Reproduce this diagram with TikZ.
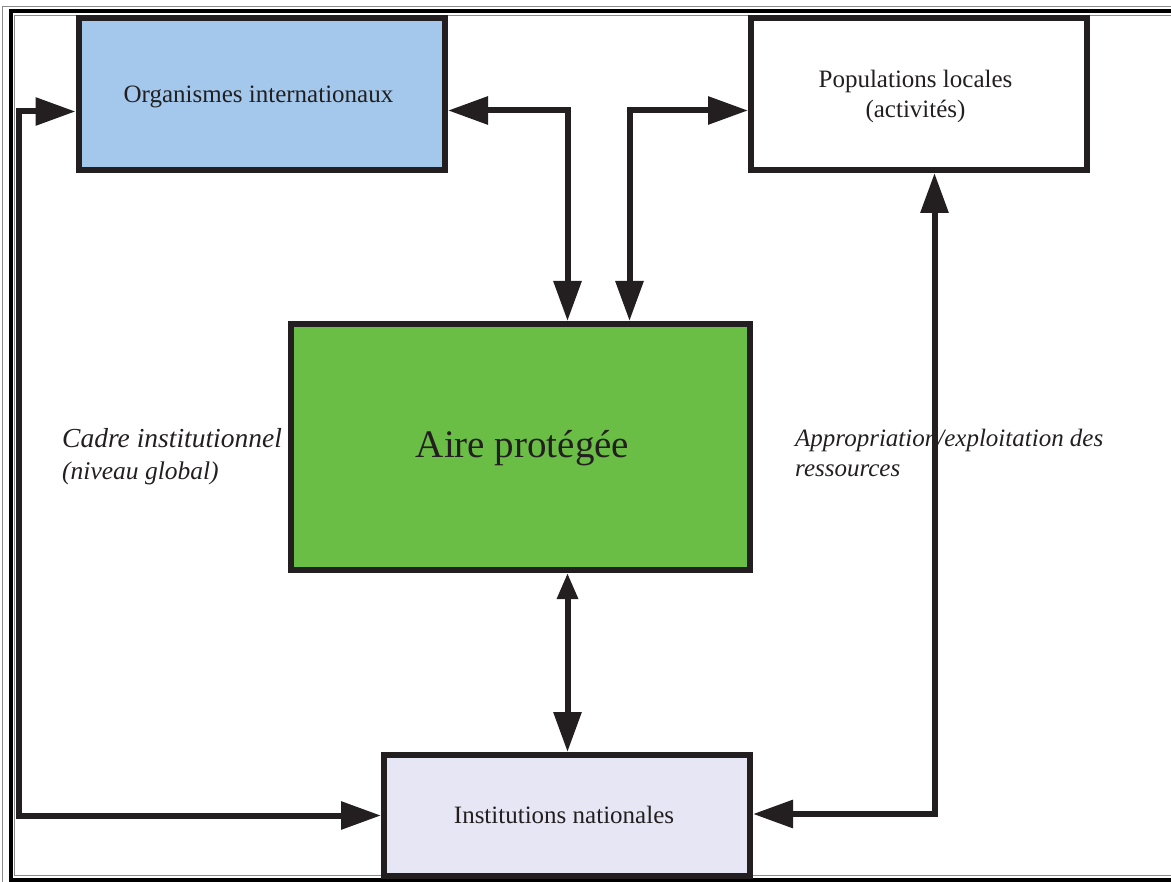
\documentclass[tikz,border=0pt]{standalone}
\usepackage{fontspec}
\setmainfont{Liberation Serif}
\usetikzlibrary{arrows.meta}
\definecolor{ink}{HTML}{231F20}
\definecolor{orgblue}{HTML}{A3C8EB}
\definecolor{aireg}{HTML}{6ABD45}
\definecolor{insl}{HTML}{E7E6F4}
\definecolor{framegray}{HTML}{8A8A8A}
\tikzset{
  box/.style={draw=ink, line width=6pt, inner sep=0pt, outer sep=auto},
  txt/.style={inner sep=0pt, align=center, text=ink, anchor=base, font=\fontsize{25}{30}\selectfont},
  lbl/.style={inner sep=0pt, align=left, text=ink, anchor=base west, font=\fontsize{25}{30}\selectfont\itshape},
  conn/.style={draw=ink, line width=6pt, line join=miter},
  bigtip/.tip={Triangle[length=40pt,width=27pt]},
  smalltip/.tip={Triangle[length=26pt,width=20pt]},
}
\begin{document}
\begin{tikzpicture}[x=1pt,y=-1pt]
\useasboundingbox (0,0) rectangle (1171,882);
\clip (0,0) rectangle (1171,882);
% frame
\draw[framegray, line width=0.8pt] (2,6) -- (1200,6);
\draw[framegray, line width=0.8pt] (2,6) -- (2,882);
\draw[black, line width=4pt] (10.5,1200) -- (10.5,11) -- (1200,11);
\draw[black, line width=4pt] (10.5,879.5) -- (1200,879.5);
\draw[framegray, line width=0.8pt] (14.5,875.5) -- (14.5,15) -- (1200,15);
\draw[framegray, line width=0.8pt] (14.5,875.5) -- (1200,875.5);
% boxes
\node[box, fill=orgblue, minimum width=366.5pt, minimum height=151.5pt] (org) at (261.75,94.25) {};
\node[box, fill=white, minimum width=336pt, minimum height=151.5pt] (pop) at (919,94.25) {};
\node[box, fill=aireg, minimum width=459pt, minimum height=246pt] (aire) at (520.5,447) {};
\node[box, fill=insl, minimum width=366pt, minimum height=121pt] (ins) at (567,815.5) {};
% box texts
\node[txt] (orgt) at (258.5,103) {Organismes internationaux};
\node[txt] (popt) at (915.5,118) {Populations locales\\(activités)};
\node[txt, font=\fontsize{39}{45}\selectfont] (airet) at (522.5,458) {Aire protégée};
\node[txt] (inst) at (564,823) {Institutions nationales};
% labels
\node[lbl, font=\fontsize{25.5}{32}\selectfont\itshape] (cadre) at (62,480) {{\fontsize{27.5}{32}\selectfont Cadre institutionnel}\\(niveau global)};
\node[lbl] (appro) at (795,477) {Appropriation/exploitation des\\ressources};
% connectors
\coordinate (cl) at (18.5,111.5);
\coordinate (m1) at (567.5,110.5);
\coordinate (m2) at (629.5,110.5);
\coordinate (r1) at (934.5,814);
\draw[conn, {bigtip}-{bigtip}] (org.west |- cl) -- (cl) |- (ins.west);
\draw[conn, {bigtip}-{bigtip}] (org.east |- m1) -- (m1) -- (m1 |- aire.north);
\draw[conn, {bigtip}-{bigtip}] (m2 |- aire.north) -- (m2) -- (m2 -| pop.west);
\draw[conn, {bigtip}-{bigtip}] (ins.east |- r1) -- (r1) -- (r1 |- pop.south);
\draw[conn, {smalltip}-{bigtip}] (aire.south -| m1) -- (ins.north -| m1);
\end{tikzpicture}
\end{document}
